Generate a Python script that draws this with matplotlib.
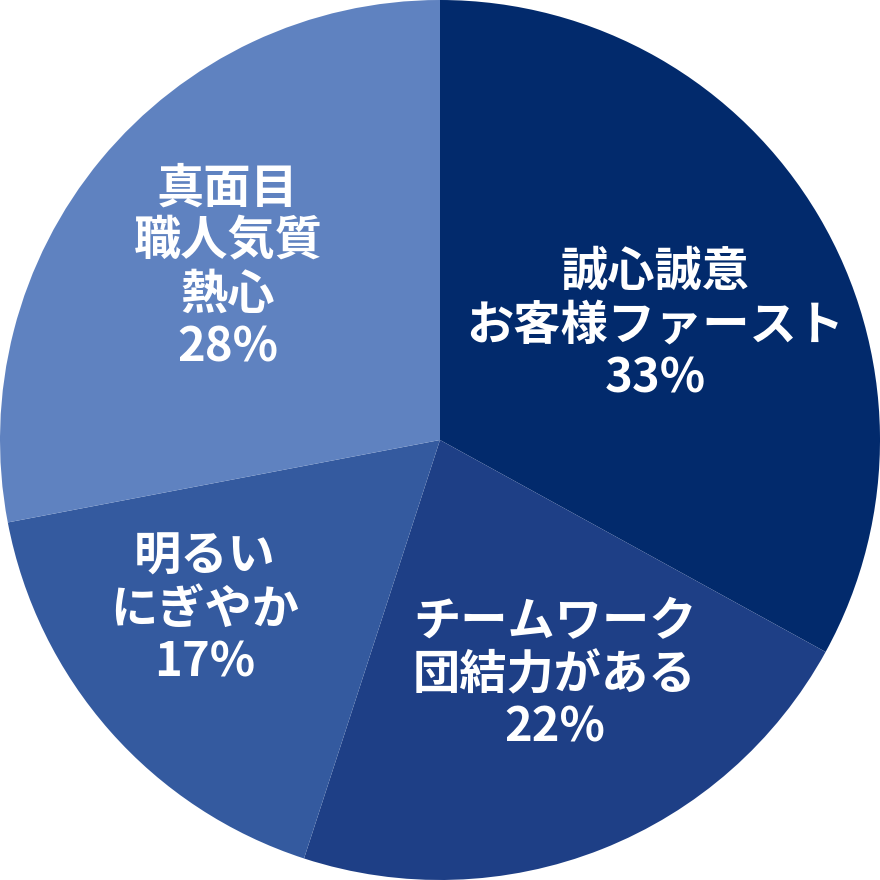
import matplotlib.pyplot as plt

# data
labels = ['誠心誠意\nお客様ファースト', 'チームワーク\n団結力がある', '明るい\nにぎやか', '真面目\n職人気質\n熱心']
values = [33, 22, 17, 28]
colors = ['#022a6c', '#1e3f86', '#345a9f', '#5f82c0']

# label centres, in axes data units (pie radius = 1)
label_pos = [(0.489, 0.261), (0.261, -0.534), (-0.534, -0.386), (-0.482, 0.391)]

plt.rcParams['font.family'] = ['Noto Sans CJK JP', 'DejaVu Sans']

fig = plt.figure(figsize=(8.8, 8.8), dpi=100)
ax = fig.add_axes([0, 0, 1, 1])
ax.pie(values, colors=colors, startangle=90, counterclock=False,
       radius=1, wedgeprops={'linewidth': 0})
ax.set_xlim(-1, 1)
ax.set_ylim(-1, 1)
ax.set_aspect('equal')
ax.axis('off')

for lab, v, (x, y) in zip(labels, values, label_pos):
    ax.text(x, y, f'{lab}\n{v}%', ha='center', va='center', color='white',
            fontsize=34, fontweight='bold', linespacing=1.13)

fig.savefig('out.png', dpi=100)
